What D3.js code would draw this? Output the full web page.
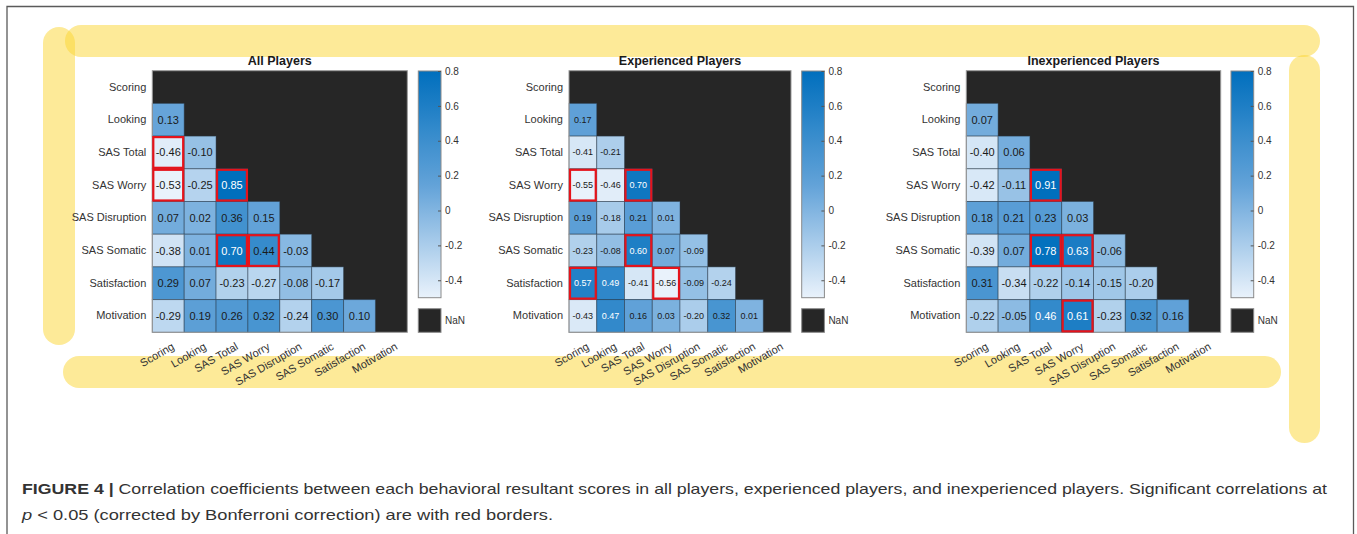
<!DOCTYPE html>
<html>
<head>
<meta charset="utf-8">
<script src="https://cdn.jsdelivr.net/npm/d3@7"></script>
<style>
  html, body { margin: 0; padding: 0; background: #fff; }
  svg { display: block; font-family: "Liberation Sans", Arial, Helvetica, sans-serif; }
</style>
</head>
<body>
<svg id="fig" width="1357" height="534"></svg>
<script>
// Behavioural measures (rows and columns of every matrix)
const variables = ["Scoring", "Looking", "SAS Total", "SAS Worry", "SAS Disruption", "SAS Somatic", "Satisfaction", "Motivation"];

// Lower-triangle correlation coefficients, one row per variable
const allPlayers = [
  [],
  [0.13],
  [-0.46, -0.10],
  [-0.53, -0.25, 0.85],
  [0.07, 0.02, 0.36, 0.15],
  [-0.38, 0.01, 0.70, 0.44, -0.03],
  [0.29, 0.07, -0.23, -0.27, -0.08, -0.17],
  [-0.29, 0.19, 0.26, 0.32, -0.24, 0.30, 0.10]
];
const experiencedPlayers = [
  [],
  [0.17],
  [-0.41, -0.21],
  [-0.55, -0.46, 0.70],
  [0.19, -0.18, 0.21, 0.01],
  [-0.23, -0.08, 0.60, 0.07, -0.09],
  [0.57, 0.49, -0.41, -0.56, -0.09, -0.24],
  [-0.43, 0.47, 0.16, 0.03, -0.20, 0.32, 0.01]
];
const inexperiencedPlayers = [
  [],
  [0.07],
  [-0.40, 0.06],
  [-0.42, -0.11, 0.91],
  [0.18, 0.21, 0.23, 0.03],
  [-0.39, 0.07, 0.78, 0.63, -0.06],
  [0.31, -0.34, -0.22, -0.14, -0.15, -0.20],
  [-0.22, -0.05, 0.46, 0.61, -0.23, 0.32, 0.16]
];

// Significant pairs [row, column] (p < 0.05, Bonferroni corrected)
const sigAll = [[2, 0], [3, 0], [3, 2], [5, 2], [5, 3]];
const sigExperienced = [[3, 0], [3, 2], [5, 2], [6, 0], [6, 3]];
const sigInexperienced = [[3, 2], [5, 2], [5, 3], [7, 3]];

const panelTitles = ["All Players", "Experienced Players", "Inexperienced Players"];
const colorbarTicks = [0.8, 0.6, 0.4, 0.2, 0, -0.2, -0.4];
const colorLimits = [-0.5, 0.8];

// ---------------------------------------------------------------
const svg = d3.select("#fig");
const nanColor = "#262626";
const textColor = "#333333";
const color = d3.scaleLinear()
  .domain([colorLimits[0], 0.15, colorLimits[1]])
  .range(["#e9f2fb", "#62a2d8", "#006fbd"])
  .interpolate(d3.interpolateRgb)
  .clamp(true);

// page frame
svg.append("path")
  .attr("d", "M7,540 V6.5 H1353.5 V540")
  .attr("fill", "none")
  .attr("stroke", "#5a5a5a")
  .attr("stroke-width", 1.3);

// highlighter strokes
const marks = svg.append("g").attr("class", "highlights");
const bands = [
  { x: 43, y: 27, w: 32, h: 318 },
  { x: 65, y: 25, w: 1255, h: 32 },
  { x: 1289, y: 55, w: 31, h: 388 },
  { x: 63, y: 356, w: 1218, h: 32 }
];
marks.selectAll("rect").data(bands).join("rect")
  .attr("x", d => d.x).attr("y", d => d.y)
  .attr("width", d => d.w).attr("height", d => d.h)
  .attr("rx", d => Math.min(d.w, d.h) / 2)
  .attr("fill", "rgb(252,214,50)")
  .attr("fill-opacity", 0.5);

// shared colour gradient for the colour bars
const defs = svg.append("defs");
const grad = defs.append("linearGradient")
  .attr("id", "cbar").attr("x1", 0).attr("y1", 1).attr("x2", 0).attr("y2", 0);
d3.range(0, 1.0001, 0.05).forEach(t => {
  grad.append("stop")
    .attr("offset", t)
    .attr("stop-color", color(colorLimits[0] + t * (colorLimits[1] - colorLimits[0])));
});

const matTop = 70.7, matBottom = 332.3;

function drawPanel(cfg) {
  const g = svg.append("g");
  const x = d3.scaleBand().domain(variables).range([cfg.left, cfg.right]);
  const y = d3.scaleBand().domain(variables).range([matTop, matBottom]);

  // missing-data background (upper triangle and diagonal)
  g.append("rect")
    .attr("x", cfg.left).attr("y", matTop)
    .attr("width", cfg.right - cfg.left).attr("height", matBottom - matTop)
    .attr("fill", nanColor);

  const cells = cfg.values.flatMap((row, i) =>
    row.map((v, j) => ({ r: variables[i], c: variables[j], v })));

  g.selectAll("rect.cell").data(cells).join("rect")
    .attr("class", "cell")
    .attr("x", d => x(d.c)).attr("y", d => y(d.r))
    .attr("width", x.bandwidth()).attr("height", y.bandwidth())
    .attr("fill", d => color(d.v))
    .attr("stroke", "rgba(40,55,70,0.45)")
    .attr("stroke-width", 1);

  g.selectAll("text.val").data(cells).join("text")
    .attr("class", "val")
    .attr("x", d => x(d.c) + x.bandwidth() / 2)
    .attr("y", d => y(d.r) + y.bandwidth() / 2)
    .attr("text-anchor", "middle")
    .attr("dominant-baseline", "central")
    .attr("font-size", cfg.valueSize)
    .attr("fill", d => d.v > 0.45 ? "#ffffff" : "#1a1a1a")
    .text(d => d.v.toFixed(2));

  // axes frame
  g.append("rect")
    .attr("x", cfg.left).attr("y", matTop)
    .attr("width", cfg.right - cfg.left).attr("height", matBottom - matTop)
    .attr("fill", "none").attr("stroke", "#9a9a9a").attr("stroke-width", 1);

  // significance borders
  g.selectAll("rect.sig").data(cfg.sig).join("rect")
    .attr("class", "sig")
    .attr("x", d => x(variables[d[1]]) + 1)
    .attr("y", d => y(variables[d[0]]) + 1)
    .attr("width", x.bandwidth() - 2).attr("height", y.bandwidth() - 2)
    .attr("fill", "none").attr("stroke", "#e5131b").attr("stroke-width", 2.2);

  // row labels
  const ya = g.append("g")
    .attr("transform", `translate(${cfg.left},0)`)
    .call(d3.axisLeft(y).tickSize(0).tickPadding(6));
  ya.select(".domain").remove();
  ya.attr("font-family", null).attr("font-size", 11).attr("color", textColor);

  // column labels, rotated
  const xa = g.append("g")
    .attr("transform", `translate(0,${matBottom})`)
    .call(d3.axisBottom(x).tickSize(0));
  xa.select(".domain").remove();
  xa.attr("font-family", null).attr("font-size", 11).attr("color", textColor);
  xa.selectAll("text")
    .attr("x", 0).attr("y", 0).attr("dy", "0.35em")
    .attr("text-anchor", "end")
    .attr("transform", "translate(5,13) rotate(-30)");

  // title
  g.append("text")
    .attr("x", (cfg.left + cfg.right) / 2).attr("y", 65)
    .attr("text-anchor", "middle")
    .attr("font-size", 12.5).attr("font-weight", "bold")
    .attr("fill", "#1a1a1a")
    .text(cfg.title);

  // colour bar
  const cbTop = 71, cbBottom = 297.7, cbW = 22.7;
  const cb = d3.scaleLinear().domain(colorLimits).range([cbBottom, cbTop]);
  g.append("rect")
    .attr("x", cfg.cbx).attr("y", cbTop)
    .attr("width", cbW).attr("height", cbBottom - cbTop)
    .attr("fill", "url(#cbar)")
    .attr("stroke", "#8a8a8a").attr("stroke-width", 1);
  const ca = g.append("g")
    .attr("transform", `translate(${cfg.cbx + cbW},0)`)
    .call(d3.axisRight(cb).tickValues(colorbarTicks).tickSize(-3).tickPadding(4)
      .tickFormat(d => d === 0 ? "0" : String(d)));
  ca.select(".domain").remove();
  ca.attr("font-family", null).attr("font-size", 10).attr("color", textColor);
  ca.selectAll("line").attr("stroke", "#555");

  // missing-data key
  g.append("rect")
    .attr("x", cfg.cbx).attr("y", 308.7)
    .attr("width", cbW).attr("height", matBottom - 308.7)
    .attr("fill", nanColor).attr("stroke", "#8a8a8a").attr("stroke-width", 1);
  g.append("text")
    .attr("x", cfg.cbx + cbW + 4).attr("y", (308.7 + matBottom) / 2)
    .attr("dominant-baseline", "central")
    .attr("font-size", 10).attr("fill", textColor)
    .text("NaN");
}

drawPanel({ title: panelTitles[0], values: allPlayers, sig: sigAll,
  left: 152.3, right: 407.3, cbx: 418.3, valueSize: 11 });
drawPanel({ title: panelTitles[1], values: experiencedPlayers, sig: sigExperienced,
  left: 569, right: 791, cbx: 801.7, valueSize: 9 });
drawPanel({ title: panelTitles[2], values: inexperiencedPlayers, sig: sigInexperienced,
  left: 966.3, right: 1220.7, cbx: 1231, valueSize: 11 });

// caption
const cap = svg.append("g").attr("fill", "#333").attr("font-size", 15);
const line1 = cap.append("text").attr("x", 22).attr("y", 494)
  .attr("textLength", 1305).attr("lengthAdjust", "spacingAndGlyphs");
line1.append("tspan").attr("font-weight", "bold").text("FIGURE 4 | ");
line1.append("tspan").text("Correlation coefficients between each behavioral resultant scores in all players, experienced players, and inexperienced players. Significant correlations at");
const line2 = cap.append("text").attr("x", 22).attr("y", 520)
  .attr("textLength", 531).attr("lengthAdjust", "spacingAndGlyphs");
line2.append("tspan").attr("font-style", "italic").text("p");
line2.append("tspan").text(" < 0.05 (corrected by Bonferroni correction) are with red borders.");
</script>
</body>
</html>
